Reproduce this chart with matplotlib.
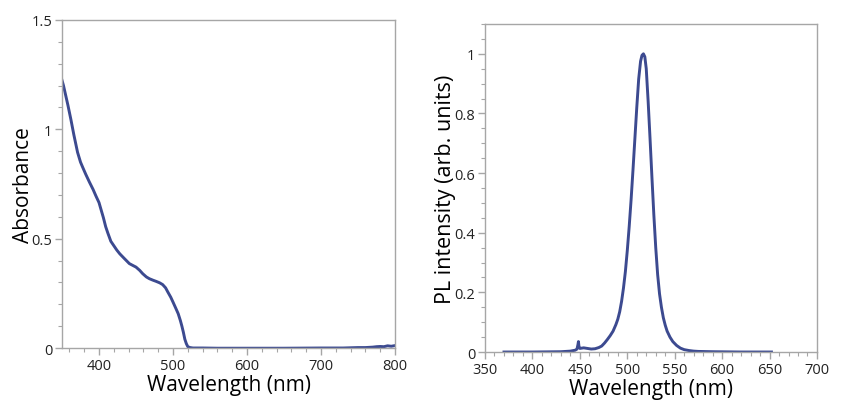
import matplotlib
matplotlib.use("Agg")
import matplotlib.pyplot as plt
from matplotlib.ticker import MultipleLocator, FuncFormatter

plt.rcParams['font.family'] = ['Open Sans', 'DejaVu Sans']

# Absorbance spectrum
abs_wl = [350, 352, 355, 358, 362, 366, 371, 375, 378, 382, 387, 392, 396, 400, 403,
          406, 409, 412, 416, 420, 424, 428, 434, 441, 446, 450, 455, 459, 464, 468,
          473, 477, 482, 486, 490, 493, 497, 500, 504, 507, 510, 512, 514, 516, 518,
          520, 523, 527, 540, 560, 600, 650, 700, 730, 750, 760, 770, 775, 780, 785,
          790, 795, 800]
abs_val = [1.224, 1.200, 1.155, 1.110, 1.045, 0.975, 0.895, 0.850, 0.826, 0.795, 0.759,
           0.725, 0.694, 0.665, 0.630, 0.595, 0.555, 0.525, 0.488, 0.468, 0.448, 0.431,
           0.410, 0.386, 0.377, 0.370, 0.355, 0.340, 0.325, 0.317, 0.310, 0.305, 0.298,
           0.290, 0.275, 0.256, 0.232, 0.210, 0.180, 0.157, 0.125, 0.100, 0.072, 0.040,
           0.020, 0.006, 0.002, 0.0, 0.0, -0.001, -0.001, -0.001, 0.0, 0.0, 0.002,
           0.002, 0.004, 0.006, 0.007, 0.006, 0.010, 0.008, 0.011]

# Photoluminescence spectrum
pl_wl = [370, 400, 430, 440, 445, 447, 448, 448.5, 449, 450, 454, 458, 462, 466, 470,
         473, 476, 479, 482, 485, 488, 490, 492, 494, 496, 498, 500, 502, 504, 506,
         508, 510, 512, 514, 515.5, 517, 518.5, 520, 522, 524, 526, 528, 530, 532,
         534, 536, 538, 540, 542, 545, 548, 552, 556, 560, 565, 570, 575, 590, 620, 652]
pl_val = [0.0, 0.0, 0.001, 0.003, 0.006, 0.010, 0.025, 0.035, 0.020, 0.012, 0.014,
          0.012, 0.010, 0.011, 0.015, 0.020, 0.030, 0.042, 0.055, 0.070, 0.092, 0.110,
          0.135, 0.170, 0.215, 0.270, 0.340, 0.420, 0.510, 0.610, 0.715, 0.820, 0.915,
          0.975, 0.995, 1.0, 0.990, 0.950, 0.840, 0.715, 0.585, 0.460, 0.350, 0.260,
          0.195, 0.150, 0.115, 0.090, 0.070, 0.050, 0.035, 0.022, 0.013, 0.008, 0.005,
          0.003, 0.002, 0.001, 0.0, 0.0]

line_color = '#3c4a90'
spine_color = '#a6a6a6'

fig = plt.figure(figsize=(8.46, 4.14), dpi=100)
ax1 = fig.add_axes([0.0733, 0.157, 0.3936, 0.7923])
ax2 = fig.add_axes([0.5733, 0.1473, 0.3924, 0.7923])

fmt = FuncFormatter(lambda v, p: '%g' % round(v, 3))

for ax in (ax1, ax2):
    for s in ax.spines.values():
        s.set_color(spine_color)
        s.set_linewidth(1.0)
    ax.tick_params(which='both', direction='out', color=spine_color, top=False, right=False,
                   labelsize=10.5, labelcolor='#222222', pad=2)
    ax.tick_params(which='major', length=5, width=1)
    ax.tick_params(which='minor', length=3, width=0.8)
    ax.yaxis.set_major_formatter(fmt)

ax1.plot(abs_wl, abs_val, color=line_color, lw=2.1)
ax1.set_xlim(350, 800)
ax1.set_ylim(0, 1.5)
ax1.xaxis.set_major_locator(MultipleLocator(100))
ax1.xaxis.set_minor_locator(MultipleLocator(20))
ax1.yaxis.set_major_locator(MultipleLocator(0.5))
ax1.yaxis.set_minor_locator(MultipleLocator(0.1))
ax1.set_xlabel('Wavelength (nm)', fontsize=15, labelpad=1)
ax1.set_ylabel('Absorbance', fontsize=15, labelpad=-2)

ax2.plot(pl_wl, pl_val, color=line_color, lw=2.1)
ax2.set_xlim(350, 700)
ax2.set_ylim(0, 1.1)
ax2.xaxis.set_major_locator(MultipleLocator(50))
ax2.xaxis.set_minor_locator(MultipleLocator(10))
ax2.yaxis.set_major_locator(MultipleLocator(0.2))
ax2.yaxis.set_minor_locator(MultipleLocator(0.05))
ax2.set_xlabel('Wavelength (nm)', fontsize=15, labelpad=1)
ax2.set_ylabel('PL intensity (arb. units)', fontsize=15.5, labelpad=-1)

fig.savefig('out.png', dpi=100)
